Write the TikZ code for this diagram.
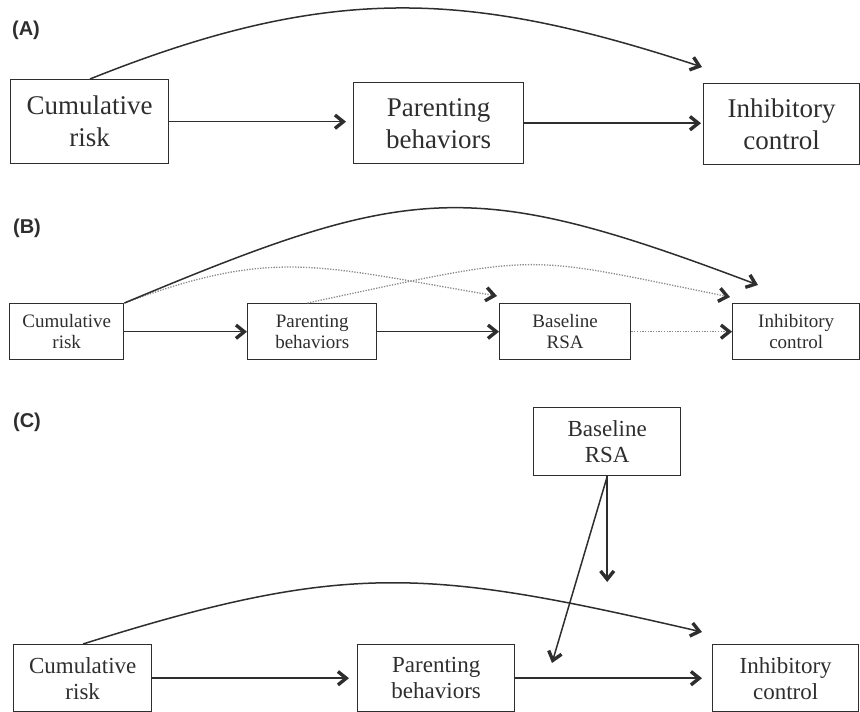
\documentclass[tikz,border=0pt]{standalone}
\usepackage{fontspec}
\setmainfont{Liberation Serif}
\setsansfont{Liberation Sans}
\usetikzlibrary{arrows.meta,calc}
\definecolor{ink}{HTML}{2E2E2E}
\definecolor{dotc}{HTML}{8A8A8A}
\pgfdeclarearrow{
  name = Chev,
  setup code = {
    \pgfarrowssettipend{0pt}
    \pgfarrowssetlineend{-4pt}
    \pgfarrowssetbackend{-12.2pt}
    \pgfarrowshullpoint{0pt}{0pt}
    \pgfarrowsupperhullpoint{-10pt}{8pt}
    \pgfarrowsupperhullpoint{-12.2pt}{5.4pt}
  },
  drawing code = {
    \pgfpathmoveto{\pgfqpoint{0pt}{0pt}}
    \pgfpathlineto{\pgfqpoint{-10pt}{8pt}}
    \pgfpathlineto{\pgfqpoint{-12.12pt}{5.35pt}}
    \pgfpathlineto{\pgfqpoint{-5.44pt}{0pt}}
    \pgfpathlineto{\pgfqpoint{-12.12pt}{-5.35pt}}
    \pgfpathlineto{\pgfqpoint{-10pt}{-8pt}}
    \pgfpathclose
    \pgfusepathqfill
  }
}
\tikzset{
  box/.style={draw=ink, line width=1.4pt, inner sep=0pt, align=center, text=ink, anchor=north west},
  fA/.style={font=\fontsize{27}{32}\selectfont},
  fB/.style={font=\fontsize{19}{21}\selectfont},
  fC/.style={font=\fontsize{23}{26}\selectfont},
  lbl/.style={font=\sffamily\bfseries\fontsize{20}{24}\selectfont, text=ink},
  conn/.style={draw=ink, line width=1.5pt, -{Chev[color=ink]}},
  dconn/.style={draw=dotc, line width=1.3pt, dash pattern=on 1.3pt off 1.4pt, -{Chev[color=ink,scale=0.85]}},
}
\begin{document}
\begin{tikzpicture}[x=1pt,y=-1pt]
\useasboundingbox (0,0) rectangle (860,712);

% ---------- Panel A ----------
\node[lbl] (labA) at (26,30) {(A)};
\node[box,fA,minimum width=158pt,minimum height=84pt] (cumA) at (10,79) {Cumulative\\risk};
\node[box,fA,minimum width=170pt,minimum height=81pt] (parA) at (353,82) {Parenting\\behaviors};
\node[box,fA,minimum width=156pt,minimum height=81pt] (inhA) at (703,83) {Inhibitory\\control};
\draw[conn, shorten >=7pt] (cumA.east) -- (cumA.east -| parA.west);
\draw[conn, shorten >=2pt] (parA.east) -- (parA.east -| inhA.west);
\coordinate (aS) at ([xshift=80pt]cumA.north west);
\coordinate (aE) at (702,67);
\draw[conn] (aS) .. controls (332,-18) and (470,-9) .. (aE);

% ---------- Panel B ----------
\node[lbl] (labB) at (27,228) {(B)};
\node[box,fB,minimum width=114pt,minimum height=56pt] (cumB) at (9,303) {Cumulative\\risk};
\node[box,fB,minimum width=129pt,minimum height=56pt] (parB) at (247,303) {Parenting\\behaviors};
\node[box,fB,minimum width=131pt,minimum height=56pt] (rsaB) at (499,303) {Baseline\\RSA};
\node[box,fB,minimum width=127pt,minimum height=56pt] (inhB) at (732,303) {Inhibitory\\control};
\draw[conn] (cumB.east) -- (parB.west);
\draw[conn] (parB.east) -- (rsaB.west);
\draw[dconn] (rsaB.east) -- (inhB.west);
\coordinate (bE1) at (758,285);
\coordinate (bE2) at (497,296);
\coordinate (bE3) at (730,297);
\draw[dconn] (cumB.north east) .. controls (275,247) and (318,266) .. (bE2);
\draw[dconn] ([xshift=-70pt]parB.north east) .. controls (547,252) and (517,254) .. (bE3);
\draw[conn] (cumB.north east) .. controls (411,183) and (470,176) .. (bE1);

% ---------- Panel C ----------
\node[lbl] (labC) at (27,422) {(C)};
\node[box,fC,minimum width=147pt,minimum height=68pt] (rsaC) at (533,407) {Baseline\\RSA};
\node[box,fC,minimum width=138pt,minimum height=67pt] (cumC) at (13,644) {Cumulative\\risk};
\node[box,fC,minimum width=157pt,minimum height=67pt] (parC) at (357,644) {Parenting\\behaviors};
\node[box,fC,minimum width=146pt,minimum height=67pt] (inhC) at (712,644) {Inhibitory\\control};
\draw[conn, shorten >=8pt] (cumC.east) -- (parC.west);
\draw[conn, shorten >=10pt] (parC.east) -- (inhC.west);
\coordinate (cS) at ([xshift=70pt]cumC.north west);
\coordinate (cE) at (702,632);
\draw[conn] (cS) .. controls (349,560) and (429,569) .. (cE);
\coordinate (cD) at (607,582);
\coordinate (cX) at (552,663);
\draw[conn] (rsaC.south) -- (rsaC.south |- cD);
\draw[conn] (rsaC.south) -- (cX);
\end{tikzpicture}
\end{document}
